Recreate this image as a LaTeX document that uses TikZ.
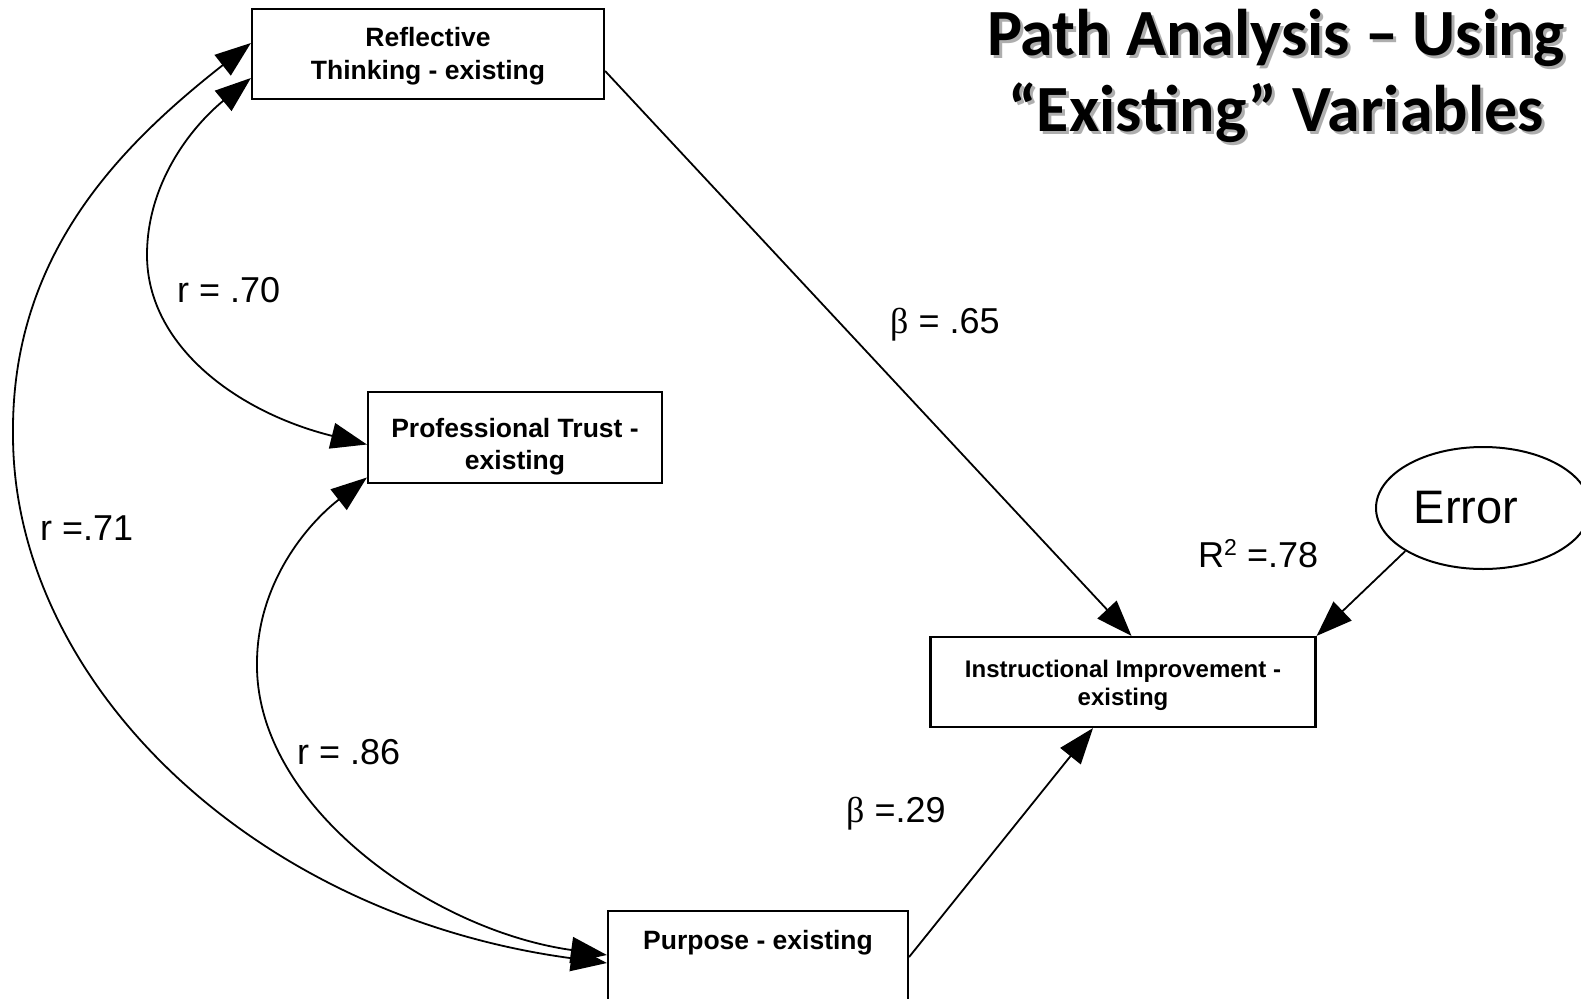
\documentclass[tikz,border=0pt]{standalone}
\usepackage{fontspec}
\setmainfont{Liberation Sans}
\newfontfamily\symf{Liberation Serif}
\newfontfamily\titlef{Carlito}
\usetikzlibrary{arrows.meta,shapes.geometric}
\tikzset{
  varbox/.style={draw=black,line width=2.2pt,fill=white,inner sep=0pt,align=center,
    font=\bfseries\fontsize{26.5}{32.3}\selectfont},
  conn/.style={line width=1.8pt,-{Triangle[length=36pt,width=26pt]}},
  dbl/.style={line width=1.8pt,{Triangle[length=36pt,width=26pt]}-{Triangle[length=36pt,width=26pt]}},
  coef/.style={anchor=base west,inner sep=0pt,font=\fontsize{36}{40}\selectfont},
  ttl/.style={anchor=base,inner sep=0pt,font=\titlef\bfseries\fontsize{66}{75}\selectfont},
  ttlshadow/.style={ttl,text=black!45,opacity=0.7}
}
\begin{document}
\begin{tikzpicture}[x=1pt,y=-1pt]
\useasboundingbox[fill=white] (0,0) rectangle (1581,998);

% title
\node[ttlshadow] (t1s) at (1279,58.5) {Path Analysis – Using};
\node[ttlshadow] (t2s) at (1279,134) {“Existing” Variables};
\node[ttl] (t1) at (1276,55.5) {Path Analysis – Using};
\node[ttl] (t2) at (1276,131) {“Existing” Variables};

% variables
\node[varbox,minimum width=352pt,minimum height=90pt] (refl) at (428,54) {\rule{0pt}{23.5pt}Reflective\\Thinking - existing};
\node[varbox,minimum width=294pt,minimum height=91pt] (pt) at (515,437.5) {\rule{0pt}{37.5pt}Professional Trust -\\existing};
\node[varbox,minimum width=385pt,minimum height=90pt,font=\bfseries\fontsize{24}{28.3}\selectfont] (inst) at (1123,682) {\rule{0pt}{23.5pt}Instructional Improvement -\\existing};
\node[varbox,minimum width=300pt,minimum height=90pt] (purp) at (758,956) {\rule{0pt}{29.5pt}Purpose - existing\\\strut};
\node[draw=black,line width=2pt,ellipse,minimum width=214pt,minimum height=122pt,inner sep=0pt] (err) at (1483,508) {};
\node[inner sep=0pt,font=\fontsize{47}{50}\selectfont] (errt) at (1466,508) {Error};

% anchor points
\coordinate (reflA) at ([shift={(0,24)}]refl.west);
\coordinate (reflB) at ([shift={(0,-11)}]refl.west);
\coordinate (reflE) at ([shift={(0,17)}]refl.east);
\coordinate (ptA) at ([shift={(0,7)}]pt.west);
\coordinate (ptB) at ([shift={(0,40)}]pt.west);
\coordinate (purpA) at ([shift={(0,-1)}]purp.west);
\coordinate (purpB) at ([shift={(0,7)}]purp.west);
\coordinate (purpE) at ([shift={(0,1)}]purp.east);
\coordinate (instN) at ([shift={(8.5,0)}]inst.north);
\coordinate (instS) at ([shift={(-30,0)}]inst.south);

% directed paths
\draw[conn] (reflE) -- (instN);
\draw[conn] (purpE) -- (instS);
\draw[conn] (err.209) -- (inst.north east);

% correlations
\draw[dbl] (reflA) .. controls (189,129) and (147,185) .. (147,255)
                   .. controls (147,345) and (236,412) .. (ptA);
\draw[dbl] (ptB) .. controls (300,530) and (257,590) .. (257,663)
                 .. controls (255,805) and (430,930) .. (purpA);
\draw[dbl] (reflB) .. controls (120,146) and (11,255) .. (13,435)
                   .. controls (13,680) and (250,915) .. (purpB);

% coefficients
\node[coef] (c70) at (177,302.5) {r = .70};
\node[coef] (c71) at (40,540) {r =.71};
\node[coef] (c86) at (297,764) {r = .86};
\node[coef] (b65) at (890,333) {{\symf β} = .65};
\node[coef] (b29) at (846,822) {{\symf β} =.29};
\node[coef] (r2) at (1198,567) {R\raisebox{0.33em}{\fontsize{23}{23}\selectfont 2} =.78};
\end{tikzpicture}
\end{document}
